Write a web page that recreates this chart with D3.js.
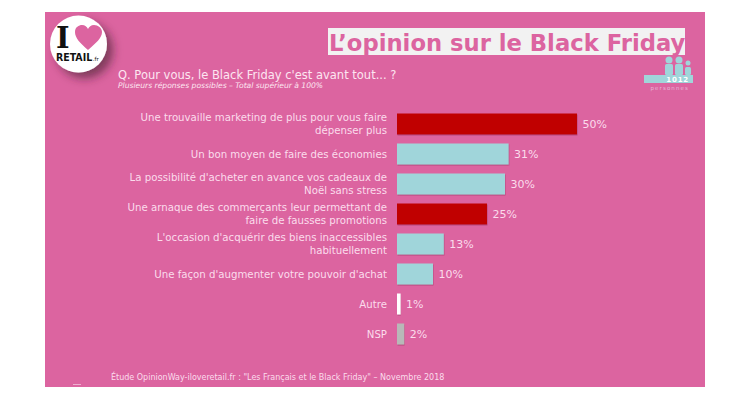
<!DOCTYPE html>
<html>
<head>
<meta charset="utf-8">
<script src="https://cdn.jsdelivr.net/npm/d3@7"></script>
<style>
  html, body { margin: 0; padding: 0; background: #fff; }
  text { font-family: "DejaVu Sans", sans-serif; }
</style>
</head>
<body>
<div id="chart"></div>
<script>
const categories = [
  ['Une trouvaille marketing de plus pour vous faire', 'dépenser plus'],
  ['Un bon moyen de faire des économies'],
  ["La possibilité d'acheter en avance vos cadeaux de", 'Noël sans stress'],
  ['Une arnaque des commerçants leur permettant de', 'faire de fausses promotions'],
  ["L'occasion d'acquérir des biens inaccessibles", 'habituellement'],
  ["Une façon d'augmenter votre pouvoir d'achat"],
  ['Autre'],
  ['NSP']
];
const values = [50, 31, 30, 25, 13, 10, 1, 2];
const barColors = ['#c00000', '#a0d5da', '#a0d5da', '#c00000', '#a0d5da', '#a0d5da', '#ffffff', '#b8b8b8'];

const pink = '#dc64a0';
const labelColor = '#fbdcec';

const svg = d3.select('#chart').append('svg')
  .attr('width', 750)
  .attr('height', 402)
  .style('display', 'block');

const defs = svg.append('defs');
const shadow = defs.append('filter').attr('id', 'logoShadow')
  .attr('x', '-30%').attr('y', '-30%').attr('width', '170%').attr('height', '170%');
shadow.append('feDropShadow')
  .attr('dx', 6).attr('dy', 6).attr('stdDeviation', 5)
  .attr('flood-color', '#40202f').attr('flood-opacity', 0.6);
const barShadow = defs.append('filter').attr('id', 'barShadow')
  .attr('x', '-10%').attr('y', '-10%').attr('width', '120%').attr('height', '130%');
barShadow.append('feDropShadow')
  .attr('dx', 0.5).attr('dy', 1).attr('stdDeviation', 0.6)
  .attr('flood-color', '#802850').attr('flood-opacity', 0.45);

// slide background
svg.append('rect')
  .attr('x', 45).attr('y', 12)
  .attr('width', 660).attr('height', 375)
  .attr('fill', pink);
svg.append('rect')
  .attr('x', 73).attr('y', 384)
  .attr('width', 8).attr('height', 0.8)
  .attr('fill', '#f3c3dc');

// title
svg.append('rect')
  .attr('x', 328).attr('y', 28)
  .attr('width', 357).attr('height', 27)
  .attr('fill', '#f2f2f2');
svg.append('text')
  .attr('x', 329).attr('y', 50.5)
  .attr('font-size', 22.7)
  .attr('font-weight', 'bold')
  .attr('fill', pink)
  .text('L’opinion sur le Black Friday');

// question
svg.append('text')
  .attr('x', 118).attr('y', 79)
  .attr('font-size', 11.5)
  .attr('fill', '#fde6f1')
  .text("Q. Pour vous, le Black Friday c'est avant tout... ?");
svg.append('text')
  .attr('x', 118).attr('y', 88)
  .attr('font-size', 7.6)
  .attr('font-style', 'italic')
  .attr('fill', '#fde6f1')
  .text('Plusieurs réponses possibles – Total supérieur à 100%');

// logo
const logo = svg.append('g');
logo.append('circle')
  .attr('cx', 78.5).attr('cy', 44).attr('r', 28.5)
  .attr('fill', '#fff')
  .attr('filter', 'url(#logoShadow)');
logo.append('path')
  .attr('d', 'M88 50 C80 43 75 38 75 32 C75 27 79 25 82 25 C85 25 87 27 88 29 C89 27 91 25 94 25 C98 25 102 28 102 32 C102 38 96 43 88 50 Z')
  .attr('fill', pink);
// one text element so the big I and the wordmark stay together
const logoText = logo.append('text').attr('fill', '#111').attr('font-weight', 'bold');
logoText.append('tspan')
  .attr('x', 56).attr('y', 48)
  .style('font-family', '"DejaVu Serif", serif')
  .attr('font-size', 29)
  .text('I');
logoText.append('tspan')
  .attr('x', 56).attr('y', 60.5)
  .style('font-family', '"DejaVu Sans Condensed", "DejaVu Sans", sans-serif')
  .attr('font-size', 10.5)
  .text('RETAIL');
logoText.append('tspan')
  .attr('dx', 0.5)
  .attr('font-size', 5.5)
  .attr('font-weight', 'normal')
  .text('.fr');

// sample size icon
const icon = svg.append('g').attr('fill', '#a0d5da');
icon.append('rect').attr('x', 644).attr('y', 75).attr('width', 49).attr('height', 8);
[[669, 60, 4], [679, 60, 4], [688, 63, 3]].forEach(function(p) {
  icon.append('circle').attr('cx', p[0]).attr('cy', p[1]).attr('r', p[2] - 0.5);
  icon.append('rect')
    .attr('x', p[0] - p[2]).attr('y', p[1] + 4)
    .attr('width', p[2] * 2).attr('height', 75 - p[1] - 4)
    .attr('rx', 1.5);
});
svg.append('text')
  .attr('x', 689).attr('y', 82)
  .attr('text-anchor', 'end')
  .attr('font-size', 7)
  .attr('font-weight', 'bold')
  .attr('fill', '#fff')
  .attr('letter-spacing', 0.8)
  .text('1012');
svg.append('text')
  .attr('x', 689).attr('y', 89.5)
  .attr('text-anchor', 'end')
  .attr('font-size', 5.5)
  .attr('fill', '#e7b6d6')
  .attr('letter-spacing', 1.1)
  .text('personnes');

// scales
const x = d3.scaleLinear().domain([0, 50]).range([397, 577]);
const y = d3.scaleBand()
  .domain(d3.range(categories.length))
  .range([113.5, 344.5])
  .paddingInner(0.3);

// bars
svg.append('g')
  .selectAll('rect')
  .data(values)
  .enter()
  .append('rect')
  .attr('x', x(0))
  .attr('y', function(d, i) { return y(i); })
  .attr('width', function(d) { return x(d) - x(0); })
  .attr('height', y.bandwidth())
  .attr('fill', function(d, i) { return barColors[i]; })
  .attr('filter', 'url(#barShadow)');

// value labels
svg.append('g')
  .selectAll('text')
  .data(values)
  .enter()
  .append('text')
  .attr('x', function(d) { return x(d) + 5.5; })
  .attr('y', function(d, i) { return y(i) + y.bandwidth() / 2 + 3.5; })
  .attr('font-size', 11)
  .attr('fill', labelColor)
  .text(function(d) { return d + '%'; });

// category labels
const catLabels = svg.append('g')
  .selectAll('text')
  .data(categories)
  .enter()
  .append('text')
  .attr('text-anchor', 'end')
  .attr('font-size', 10.2)
  .attr('fill', labelColor);
catLabels.each(function(lines, i) {
  const mid = y(i) + y.bandwidth() / 2;
  d3.select(this).selectAll('tspan')
    .data(lines)
    .enter()
    .append('tspan')
    .attr('x', 387)
    .attr('y', function(d, k) { return mid + 3.5 + (k - (lines.length - 1) / 2) * 13; })
    .text(function(d) { return d; });
});

// source
svg.append('text')
  .attr('x', 111).attr('y', 380)
  .attr('font-size', 8)
  .attr('fill', '#fbdcec')
  .text('Étude OpinionWay-iloveretail.fr : "Les Français et le Black Friday" – Novembre 2018');
</script>
</body>
</html>
